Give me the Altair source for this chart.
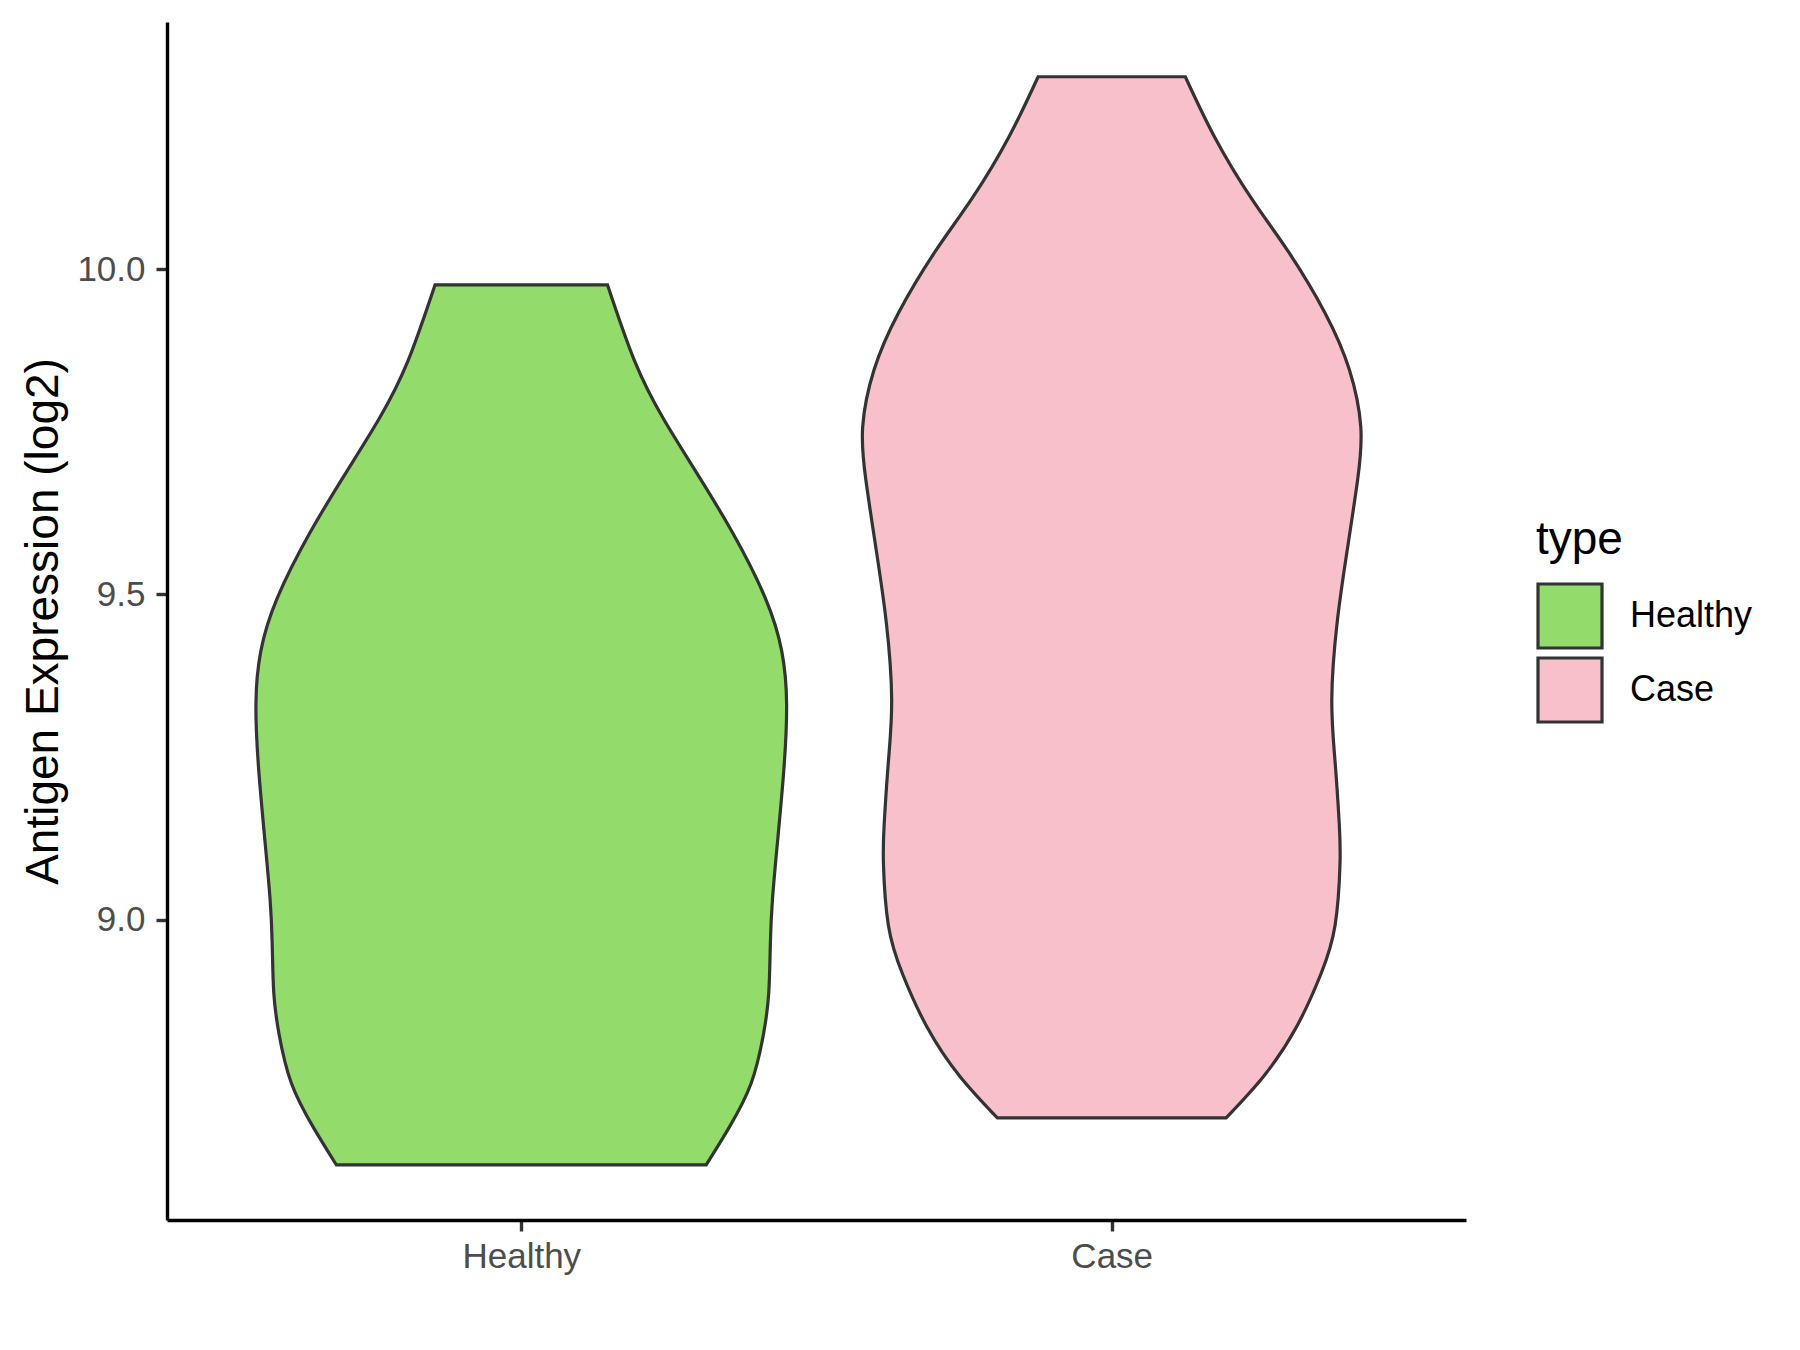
import altair as alt
import pandas as pd

# ---- data (violin outlines: value, half-width in category units)
categories = ["Healthy", "Case"]
colors = ["#93DB6A", "#F7C0CB"]

healthy_v = [8.6229, 8.6793, 8.7483, 8.8237, 8.8864, 8.9617, 9.0308, 9.1236, 9.2303,
             9.3307, 9.4123, 9.4938, 9.5942, 9.6884, 9.7699, 9.8578, 9.9757]
healthy_w = [0.3133, 0.3514, 0.3893, 0.4102, 0.4191, 0.4218, 0.4254, 0.4344, 0.4447,
             0.4494, 0.4412, 0.4135, 0.3582, 0.2960, 0.2408, 0.1924, 0.1461]

case_v = [8.6950, 8.7591, 8.8343, 8.9159, 8.9912, 9.0853, 9.1480, 9.2423, 9.3382, 9.4561,
          9.5691, 9.6758, 9.7574, 9.8452, 9.9330, 10.0272, 10.1087, 10.2028, 10.2958]
case_w = [0.1937, 0.2574, 0.3126, 0.3541, 0.3783, 0.3866, 0.3853, 0.3783, 0.3727, 0.3817,
          0.3990, 0.4164, 0.4218, 0.4025, 0.3610, 0.2989, 0.2366, 0.1744, 0.1246]

y_ticks = [9.0, 9.5, 10.0]

rows = []
for idx, (name, vs, ws) in enumerate([("Healthy", healthy_v, healthy_w), ("Case", case_v, case_w)]):
    pos = idx + 1
    for v, w in zip(vs, ws):
        rows.append({"type": name, "v": v, "lo": pos - w, "hi": pos + w})
df = pd.DataFrame(rows)

FONT = "Liberation Sans"

chart = alt.Chart(df).mark_area(
    orient="horizontal",
    interpolate="natural",
    stroke="#333333",
    strokeWidth=3.2,
    opacity=1,
    fillOpacity=1,
).encode(
    y=alt.Y("v:Q",
            scale=alt.Scale(domain=[8.538, 10.380], nice=False, zero=False),
            axis=alt.Axis(values=y_ticks, format=".1f", title="Antigen Expression (log2)",
                          titleX=-110, titleBaseline="alphabetic", titleAngle=270,
                          labelPadding=11)),
    x=alt.X("lo:Q",
            scale=alt.Scale(domain=[0.4, 2.6], nice=False, zero=False),
            axis=alt.Axis(values=[1, 2], title=None,
                          labelExpr="datum.value == 1 ? 'Healthy' : 'Case'",
                          labelPadding=8)),
    x2="hi:Q",
    detail="type:N",
    color=alt.Color("type:N",
                    scale=alt.Scale(domain=categories, range=colors),
                    legend=alt.Legend(title="type", orient="none",
                                      legendX=1369, legendY=496,
                                      symbolType="square", symbolSize=4096,
                                      symbolStrokeColor="#333333", symbolStrokeWidth=3.2,
                                      symbolOpacity=1,
                                      labelOffset=26, rowPadding=-4, titlePadding=18)),
).properties(
    width=1299,
    height=1198,
    autosize=alt.AutoSizeParams(type="none"),
    padding={"left": 159, "top": 14, "right": 320, "bottom": 120},
).configure_view(
    stroke=None
).configure_axis(
    grid=False,
    domainColor="black",
    domainWidth=3.4,
    tickColor="#333333",
    tickWidth=3.4,
    tickSize=11,
    labelColor="#4D4D4D",
    labelFont=FONT,
    labelFontSize=35,
    titleFont=FONT,
    titleFontSize=46,
    titleFontWeight="normal",
    titleColor="black",
).configure_legend(
    titleFont=FONT,
    titleFontSize=46,
    titleFontWeight="normal",
    titleColor="black",
    labelFont=FONT,
    labelFontSize=36,
    labelColor="black",
)

chart.save("out.html", embed_options={"renderer": "svg", "actions": False})
